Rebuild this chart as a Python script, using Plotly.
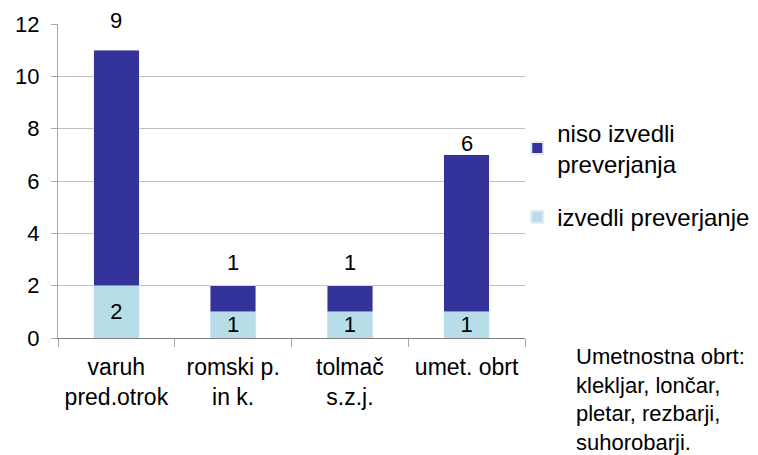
import plotly.graph_objects as go

kategorije = ["varuh<br>pred.otrok", "romski p.<br>in k.", "tolmač<br>s.z.j.", "umet. obrt"]
izvedli = [2, 1, 1, 1]
niso_izvedli = [9, 1, 1, 6]
y_ticks = [0, 2, 4, 6, 8, 10, 12]

svetla = "#B7DEE8"
temna = "#333399"
druzina = "Liberation Sans, Arial, sans-serif"
pisava = dict(family=druzina, size=22, color="black")

fig = go.Figure()

fig.add_trace(go.Bar(
    x=kategorije,
    y=izvedli,
    name="izvedli preverjanje",
    legendgroup="a",
    legendrank=2,
    marker_color=svetla,
    text=[str(v) for v in izvedli],
    textposition="inside",
    insidetextanchor="middle",
    textangle=0,
    constraintext="none",
    textfont=pisava,
    width=0.39,
))

fig.add_trace(go.Bar(
    x=kategorije,
    y=niso_izvedli,
    name="niso izvedli<br>preverjanja",
    legendgroup="b",
    legendrank=1,
    marker_color=temna,
    width=0.39,
))

# oznake nad stolpci (vrednost zgornjega dela)
zamik = [15, 9, 9, -3]
for i, kat in enumerate(kategorije):
    fig.add_annotation(
        x=kat,
        y=izvedli[i] + niso_izvedli[i],
        text=str(niso_izvedli[i]),
        showarrow=False,
        yanchor="bottom",
        yshift=zamik[i],
        font=pisava,
    )

fig.add_annotation(
    xref="paper", yref="paper",
    x=1.105, y=-0.012,
    xanchor="left", yanchor="top",
    align="left",
    text="Umetnostna obrt:<br>klekljar, lončar,<br>pletar, rezbarji,<br>suhorobarji.",
    showarrow=False,
    font=dict(family=druzina, size=22, color="black"),
)

# stran ima 8 px roba, zato je slika manjša
fig.update_layout(
    barmode="stack",
    width=750,
    height=447,
    margin=dict(l=50, r=233, t=16, b=117, autoexpand=False),
    paper_bgcolor="white",
    plot_bgcolor="white",
    font=pisava,
    legend=dict(
        xref="container",
        x=0.679, y=0.725,
        xanchor="left", yanchor="top",
        traceorder="grouped",
        font=dict(family=druzina, size=24, color="black"),
        tracegroupgap=19,
        itemsizing="constant",
        bgcolor="rgba(0,0,0,0)",
    ),
    showlegend=True,
)

fig.update_yaxes(
    range=[0, 12],
    tickvals=y_ticks,
    automargin=False,
    showgrid=True,
    gridcolor="#BFBFBF",
    gridwidth=1,
    showline=True,
    linecolor="#A6A6A6",
    ticks="outside",
    ticklen=6,
    tickcolor="#A6A6A6",
    ticklabelstandoff=7,
    zeroline=False,
    tickfont=pisava,
)

fig.update_xaxes(
    automargin=False,
    showline=True,
    linecolor="#808080",
    linewidth=1,
    ticks="outside",
    tickson="boundaries",
    ticklen=8,
    tickcolor="#A6A6A6",
    ticklabelstandoff=8,
    tickfont=dict(family=druzina, size=23, color="black"),
)

fig.write_html("out.html")
